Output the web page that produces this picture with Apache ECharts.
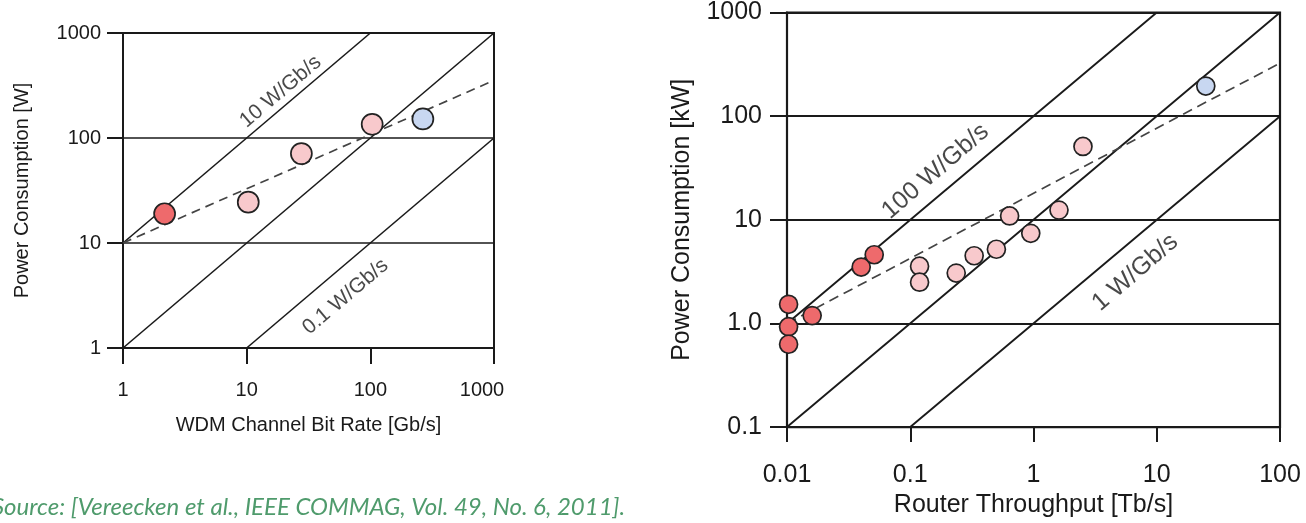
<!DOCTYPE html>
<html><head><meta charset="utf-8">
<script src="https://cdn.jsdelivr.net/npm/echarts@6/dist/echarts.min.js"></script>
<style>html,body{margin:0;padding:0;background:#fff}#c{width:1306px;height:523px}</style>
</head><body><div id="c"></div>
<script>
// ---------- Left chart: WDM channel ----------
const leftXTicks = [1, 10, 100, 1000];
const leftXTickLabels = ['1', '10', '100', '1000'];
const leftYTicks = [1, 10, 100, 1000];
const leftYTickLabels = ['1', '10', '100', '1000'];
const leftRed = [[2.17, 19]];
const leftPink = [[10.3, 24.5], [27.7, 71], [103.5, 135]];
const leftBlue = [[266, 152]];
const leftTrend = [[1, 10], [1000, 354]];
const leftRef10 = [[1, 10], [100, 1000]];
const leftRef1 = [[1, 1], [1000, 1000]];
const leftRef01 = [[10, 1], [1000, 100]];
const leftRefLabels = ['10 W/Gb/s', '0.1 W/Gb/s'];

// ---------- Right chart: router ----------
const rightXTicks = [0.01, 0.1, 1, 10, 100];
const rightXTickLabels = ['0.01', '0.1', '1', '10', '100'];
const rightYTicks = [0.1, 1, 10, 100, 1000];
const rightYTickLabels = ['0.1', '1.0', '10', '100', '1000'];
const rightRed = [[0.0103, 1.53], [0.0103, 0.93], [0.0103, 0.63], [0.016, 1.19], [0.040, 3.5], [0.051, 4.6]];
const rightPink = [[0.119, 3.57], [0.119, 2.5], [0.236, 3.06], [0.33, 4.5], [0.50, 5.2], [0.64, 10.9], [0.95, 7.4], [1.61, 12.4], [2.52, 51]];
const rightBlue = [[25, 195]];
const rightTrend = [[0.01, 1.0], [100, 325]];
const rightRef100 = [[0.01, 1], [10, 1000]];
const rightRef10 = [[0.01, 0.1], [100, 1000]];
const rightRef1 = [[0.1, 0.1], [100, 100]];
const rightRefLabels = ['100 W/Gb/s', '1 W/Gb/s'];

const sourceText = 'Source: [Vereecken et al., IEEE COMMAG, Vol. 49, No. 6, 2011].';

// ---------- layout / style ----------
const FONT = 'Liberation Sans, Arial, sans-serif';
const INK = '#1a1a1a';
const G0 = {left: 123, top: 33, width: 371, height: 315};
const G1 = {left: 787, top: 5, width: 493, height: 425};
const rotL = Math.atan((G0.height / 3) / (G0.width / 3)) * 180 / Math.PI;
const rotR = Math.atan((G1.height / 4) / (G1.width / 4)) * 180 / Math.PI;

function fmt(ticks, labels, shiftLast) {
  return function (v) {
    let best = 0, bd = Infinity;
    ticks.forEach((t, i) => { const d = Math.abs(Math.log10(t) - Math.log10(v)); if (d < bd) { bd = d; best = i; } });
    if (shiftLast && best === ticks.length - 1) return '{s|' + labels[best] + '}';
    return labels[best];
  };
}

function axis(opt) {
  return {
    type: 'log', logBase: 10, gridIndex: opt.grid, min: opt.min, max: opt.max,
    name: opt.name, nameLocation: 'middle', nameGap: opt.nameGap,
    nameTextStyle: {fontFamily: FONT, fontSize: opt.nameSize, color: INK},
    axisLine: {show: true, lineStyle: {color: INK, width: 2}},
    axisTick: {show: true, inside: false, length: opt.tickLen, lineStyle: {color: INK, width: 2}},
    minorTick: {show: false},
    axisLabel: {show: true, margin: opt.margin, fontFamily: FONT, fontSize: opt.fontSize, color: INK,
      formatter: fmt(opt.ticks, opt.labels, opt.shiftLast), showMinLabel: true, showMaxLabel: true,
      rich: {s: {fontFamily: FONT, fontSize: opt.fontSize, color: INK, padding: [0, 24, 0, 0]}}},
    splitLine: {show: opt.split, lineStyle: {color: INK, width: opt.splitW}},
    minorSplitLine: {show: false}
  };
}

function refLine(data, xi, yi, w) {
  return {type: 'line', xAxisIndex: xi, yAxisIndex: yi, data: data, symbol: 'none', silent: true,
    lineStyle: {color: INK, width: w}, z: 2};
}
function trend(data, xi, yi, dash) {
  return {type: 'line', xAxisIndex: xi, yAxisIndex: yi, data: data, symbol: 'none', silent: true,
    lineStyle: {color: '#444', width: 1.7, type: dash}, z: 3};
}
function dots(data, xi, yi, color, size) {
  return {type: 'scatter', xAxisIndex: xi, yAxisIndex: yi, data: data, symbol: 'circle', symbolSize: size,
    itemStyle: {color: color, borderColor: '#222', borderWidth: 1.7, opacity: 1}, z: 5};
}
function labels(items, xi, yi, rot, size) {
  return {type: 'scatter', xAxisIndex: xi, yAxisIndex: yi, symbolSize: 1, silent: true,
    itemStyle: {color: 'rgba(0,0,0,0)'}, z: 6,
    data: items,
    label: {show: true, position: 'inside', rotate: rot, formatter: p => p.name,
      fontFamily: FONT, fontSize: size, color: INK}};
}

const RED = '#ee6a6c', PINK = '#f8c9cc', BLUE = '#c8d7f1';

const option = {
  animation: false,
  backgroundColor: '#fff',
  grid: [
    Object.assign({show: true, borderColor: INK, borderWidth: 2, backgroundColor: 'transparent'}, G0),
    Object.assign({show: true, borderColor: INK, borderWidth: 2.2, backgroundColor: 'transparent'}, G1)
  ],
  xAxis: [
    axis({grid: 0, min: 1, max: 1000, ticks: leftXTicks, labels: leftXTickLabels, name: 'WDM Channel Bit Rate [Gb/s]',
      nameGap: 67, nameSize: 20, fontSize: 20, margin: 32, tickLen: 16, split: false, splitW: 1.5, shiftLast: true}),
    axis({grid: 1, min: 0.01, max: 100, ticks: rightXTicks, labels: rightXTickLabels, name: 'Router Throughput [Tb/s]',
      nameGap: 62, nameSize: 25, fontSize: 25, margin: 36, tickLen: 15, split: false, splitW: 2})
  ],
  yAxis: [
    axis({grid: 0, min: 1, max: 1000, ticks: leftYTicks, labels: leftYTickLabels, name: 'Power Consumption [W]',
      nameGap: 91, nameSize: 20, fontSize: 20, margin: 22, tickLen: 16, split: true, splitW: 1.5}),
    axis({grid: 1, min: 0.1, max: 1000, ticks: rightYTicks, labels: rightYTickLabels, name: 'Power Consumption [kW]',
      nameGap: 92, nameSize: 25, fontSize: 25, margin: 25, tickLen: 17, split: true, splitW: 2})
  ],
  series: [
    refLine(leftRef10, 0, 0, 1.6), refLine(leftRef1, 0, 0, 1.6), refLine(leftRef01, 0, 0, 1.6),
    trend(leftTrend, 0, 0, [9, 6]),
    dots(leftRed, 0, 0, RED, 21), dots(leftPink, 0, 0, PINK, 21), dots(leftBlue, 0, 0, BLUE, 21),
    labels([{name: leftRefLabels[0], value: [18.8, 276]}, {name: leftRefLabels[1], value: [63, 3.08]}], 0, 0, rotL, 21),

    refLine(rightRef100, 1, 1, 1.9), refLine(rightRef10, 1, 1, 1.9), refLine(rightRef1, 1, 1, 1.9),
    trend(rightTrend, 1, 1, [10, 6]),
    dots(rightRed, 1, 1, RED, 18), dots(rightPink, 1, 1, PINK, 18), dots(rightBlue, 1, 1, BLUE, 18),
    labels([{name: rightRefLabels[0], value: [0.16, 29.3]}, {name: rightRefLabels[1], value: [6.7, 3.1]}], 1, 1, rotR, 25)
  ],
  graphic: [{
    type: 'text', left: -8, top: 495,
    style: {text: sourceText, font: 'italic 24px Lato, sans-serif', fill: '#4f9b6c'}
  }]
};

const chart = echarts.init(document.getElementById('c'), null, {renderer: 'canvas'});
chart.setOption(option);
</script>
</body></html>
